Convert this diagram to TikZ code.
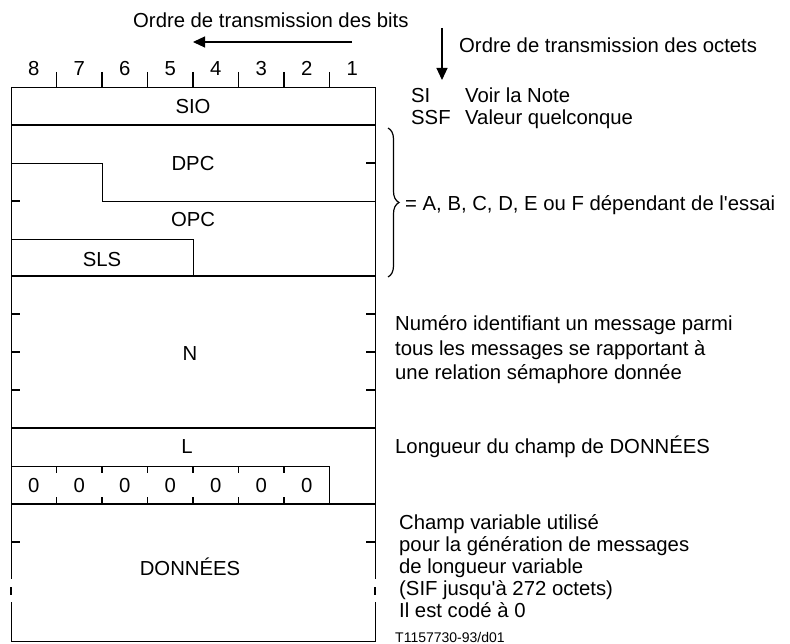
\documentclass[tikz,border=0pt]{standalone}
\usepackage{fontspec}
\setmainfont{Liberation Sans}[Ligatures=TeXOff]
\usetikzlibrary{arrows.meta,decorations.pathreplacing}
\begin{document}
\begin{tikzpicture}[x=1pt,y=-1pt,
  thin line/.style={line width=0.7pt},
  thick line/.style={line width=1.4pt},
  base font/.style={inner sep=0pt,font=\fontsize{20.3}{22}\selectfont},
  lbl/.style={base font,text height=14.5pt,text depth=0pt},
  note/.style={lbl,anchor=west},
  multi/.style={base font,anchor=west,align=left},
  arr/.style={line width=1.2pt,-{Triangle[length=12pt,width=11pt]}}]
\useasboundingbox (0,0) rectangle (790,644);
% ---- outer frame and field separators
\draw[thin line] (11,87) -- (375,87);
\draw[thin line] (11,87) -- (11,579) (11,602) -- (11,641) -- (375,641) -- (375,602) (375,579) -- (375,87);
\draw[thick line] (11,587) -- (11,595) (375,587) -- (375,595);
\foreach \y in {125,276,428,504} \draw[thick line] (11,\y) -- (375,\y);
% DPC / OPC step
\draw[thin line] (11,163) -- (102,163) -- (102,201) -- (375,201);
% SLS
\draw[thin line] (11,239) -- (193,239) -- (193,276);
% zeros row
\draw[thin line] (11,466) -- (329.5,466) -- (329.5,504);
% side ticks
\draw[thick line] (366,163) -- (375,163) (11,201) -- (20,201);
\foreach \y in {314,352,390,542} \draw[thick line] (11,\y) -- (20,\y) (366,\y) -- (375,\y);
% header ticks and zero-row ticks
\foreach \i in {1,...,7} {
  \draw[thick line] (11+45.5*\i,72) -- (11+45.5*\i,87);
  \draw[thick line] (11+45.5*\i,466) -- (11+45.5*\i,473) (11+45.5*\i,497) -- (11+45.5*\i,504);
}
% header digits
\foreach \d [count=\i from 0] in {8,7,6,5,4,3,2,1}
  \node[lbl] (h\d) at (33.75+45.5*\i,68) {\d};
\foreach \i in {0,...,6}
  \node[lbl] (z\i) at (33.75+45.5*\i,485) {0};
% field labels
\node[lbl] (sio) at (193,106) {SIO};
\node[lbl] (dpc) at (193,163) {DPC};
\node[lbl] (opc) at (193,219) {OPC};
\node[lbl] (sls) at (102,259) {SLS};
\node[lbl] (n) at (190,353) {N};
\node[lbl] (l) at (187,446) {L};
\node[lbl] (don) at (190,568) {DONNÉES};
% transmission order arrows
\node[note] (bits) at (133,20) {Ordre de transmission des bits};
\coordinate (bitsA) at (352,42);
\coordinate (bitsB) at (193,42);
\draw[arr] (bitsA) -- (bitsB);
\node[note] (oct) at (459,45) {Ordre de transmission des octets};
\coordinate (octA) at (442,28);
\coordinate (octB) at (442,80);
\draw[arr] (octA) -- (octB);
% notes
\node[note] (si) at (411,95) {SI};
\node[note] (sin) at (465,95) {Voir la Note};
\node[note] (ssf) at (411,117) {SSF};
\node[note] (ssfn) at (465,117) {Valeur quelconque};
\coordinate (brA) at (388,128);
\coordinate (brB) at (388,277);
\draw[line width=1.2pt,decorate,decoration={brace,amplitude=11pt}] (brA) -- (brB);
\node[note] (essai) at (405,203) {= A, B, C, D, E ou F dépendant de l'essai};
\node[multi,font=\fontsize{20.3}{24.5}\selectfont] (num) at (395,350) {Numéro identifiant un message parmi\\tous les messages se rapportant à\\une relation sémaphore donnée};
\node[note] (long) at (395,446) {Longueur du champ de DONNÉES};
\node[multi] (champ) at (399,566) {Champ variable utilisé\\pour la génération de messages\\de longueur variable\\(SIF jusqu'à 272 octets)\\Il est codé à 0};
\node[note,font=\fontsize{14}{16}\selectfont,text height=10pt] (ref) at (395,637) {T1157730-93/d01};
\end{tikzpicture}
\end{document}
